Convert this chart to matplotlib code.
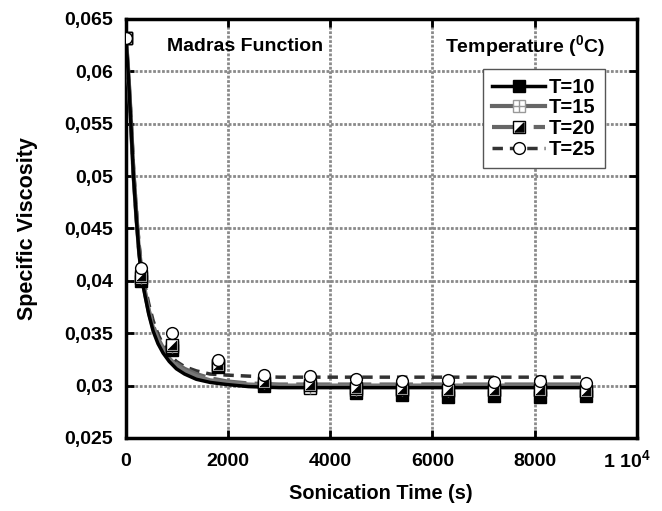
import matplotlib
matplotlib.use("Agg")
import matplotlib.pyplot as plt
from matplotlib.lines import Line2D
from matplotlib.ticker import FixedLocator, FuncFormatter
from matplotlib.transforms import ScaledTranslation

plt.rcParams['font.family'] = ['Liberation Sans', 'DejaVu Sans']
plt.rcParams['font.weight'] = 'bold'
plt.rcParams['mathtext.fontset'] = 'custom'
plt.rcParams['mathtext.rm'] = 'Liberation Sans:bold'
plt.rcParams['mathtext.bf'] = 'Liberation Sans:bold'

# measured data (markers)
time_s = [0, 300, 900, 1800, 2700, 3600, 4500, 5400, 6300, 7200, 8100, 9000]
T10 = [0.0632, 0.0400, 0.0334, 0.0318, 0.0300, 0.0299, 0.0293, 0.0291, 0.0289, 0.0290, 0.0289, 0.0290]
T15 = [0.0632, 0.0403, 0.0337, 0.0320, 0.0302, 0.0298, 0.0296, 0.0296, 0.0295, 0.0296, 0.0296, 0.0295]
T20 = [0.0632, 0.0405, 0.0339, 0.0320, 0.0303, 0.0301, 0.0298, 0.0297, 0.0296, 0.0296, 0.0296, 0.0295]
T25 = [0.0632, 0.0412, 0.0350, 0.0324, 0.0310, 0.0309, 0.0306, 0.0304, 0.0305, 0.0303, 0.0304, 0.0302]

# fitted (Madras function) curves
fit_t = [0, 25, 50, 100, 150, 210, 260, 320, 380, 450, 535, 630, 730, 850, 990,
         1150, 1380, 1650, 1970, 2400, 3000, 4000, 9000]
fit_T10 = [0.0632, 0.0615, 0.0596, 0.0550, 0.0500, 0.0457, 0.0426, 0.0400, 0.0385, 0.0368,
           0.0352, 0.0340, 0.0331, 0.0323, 0.0316, 0.0311, 0.0306, 0.0303, 0.0301, 0.0299,
           0.0298, 0.0298, 0.0298]
fit_T15 = [0.0632, 0.0615, 0.0597, 0.0552, 0.0502, 0.0459, 0.0428, 0.0402, 0.0387, 0.0370,
           0.0355, 0.0343, 0.0334, 0.0326, 0.0319, 0.0314, 0.0309, 0.0305, 0.0303, 0.0301,
           0.0300, 0.0300, 0.0300]
fit_T20 = [0.0632, 0.0616, 0.0598, 0.0554, 0.0504, 0.0461, 0.0430, 0.0404, 0.0389, 0.0372,
           0.0357, 0.0345, 0.0336, 0.0328, 0.0321, 0.0316, 0.0311, 0.0307, 0.0304, 0.0302,
           0.0301, 0.0301, 0.0301]
fit_T25 = [0.0632, 0.0617, 0.0600, 0.0557, 0.0508, 0.0466, 0.0435, 0.0409, 0.0394, 0.0378,
           0.0362, 0.0349, 0.0339, 0.0330, 0.0323, 0.0318, 0.0314, 0.0311, 0.0310, 0.0309,
           0.0308, 0.0308, 0.0308]

y_ticks = [0.025, 0.03, 0.035, 0.04, 0.045, 0.05, 0.055, 0.06, 0.065]
x_ticks = [0, 2000, 4000, 6000, 8000, 10000]

fig = plt.figure(figsize=(6.62, 5.11), dpi=100)
ax = fig.add_axes([0.190, 0.143, 0.772, 0.820])
ax.set_xlim(0, 10000)
ax.set_ylim(0.025, 0.065)

ax.grid(True, color='#8a8a8a', linestyle=(0, (1, 0.6)), linewidth=2.0)
ax.set_axisbelow(True)

# fit curves
ax.plot(fit_t, fit_T25, color='#333333', lw=2.5, ls=(0, (3, 2)), zorder=3)
ax.plot(fit_t, fit_T20, color='#666666', lw=3.0, ls=(0, (8, 2)), zorder=3)
ax.plot(fit_t, fit_T15, color='#777777', lw=3.0, ls='-', zorder=3)
ax.plot(fit_t, fit_T10, color='black', lw=2.5, ls='-', zorder=3)

ms = 8.5
tri = [(-1, -1), (1, -1), (1, 1), (-1, -1)]
# markers
ax.plot(time_s, T10, ls='none', marker='s', ms=ms, mfc='black', mec='black', mew=1, zorder=4)
ax.plot(time_s, T15, ls='none', marker='s', ms=ms, mfc='white', mec='black', mew=1, zorder=5)
ax.plot(time_s, T15, ls='none', marker='+', ms=ms, mec='#888888', mew=1, zorder=5)
ax.plot(time_s, T20, ls='none', marker='s', ms=ms, mfc='white', mec='black', mew=1, zorder=6)
ax.plot(time_s, T20, ls='none', marker=tri, ms=ms * 0.75, mfc='black', mec='black', mew=0.5, zorder=6)
ax.plot(time_s, T25, ls='none', marker='o', ms=ms, mfc='white', mec='black', mew=1, zorder=7)

# ticks
ax.xaxis.set_major_locator(FixedLocator(x_ticks))
ax.yaxis.set_major_locator(FixedLocator(y_ticks))
ax.xaxis.set_major_formatter(FuncFormatter(lambda v, p: '1 10$^{4}$' if v == 10000 else f'{int(v)}'))
ax.yaxis.set_major_formatter(FuncFormatter(lambda v, p: f'{v:.3f}'.rstrip('0').replace('.', ',')))
ax.tick_params(direction='in', length=6, width=2, top=True, right=True, labelsize=14)
ax.tick_params(axis='x', pad=11)
ax.tick_params(axis='y', pad=9)
for lab in ax.get_xticklabels() + ax.get_yticklabels():
    lab.set_fontweight('bold')
for s in ax.spines.values():
    s.set_linewidth(2.5)

last = ax.xaxis.get_major_ticks()[-1].label1
last.set_transform(last.get_transform() + ScaledTranslation(-0.1, 0.04, fig.dpi_scale_trans))

ax.set_xlabel('Sonication Time (s)', fontsize=14.3, fontweight='bold', labelpad=9)
ax.set_ylabel('Specific Viscosity', fontsize=15.5, fontweight='bold', labelpad=19)

ax.text(0.080, 0.933, 'Madras Function', transform=ax.transAxes, fontsize=14,
        fontweight='bold', va='center', ha='left')
ax.text(0.624, 0.933, r'Temperature ($^{0}$C)', transform=ax.transAxes, fontsize=14,
        fontweight='bold', va='center', ha='left')

# legend
h10 = Line2D([], [], color='black', lw=2.5, marker='s', ms=ms, mfc='black', mec='black')
h15 = (Line2D([], [], color='#666666', lw=3.0, marker='s', ms=ms, mfc='white', mec='#999999'),
       Line2D([], [], ls='none', marker='+', ms=ms, mec='#999999', mew=1))
h20 = (Line2D([], [], color='#666666', lw=3.0, ls=(0, (8, 2)), marker='s', ms=ms, mfc='white', mec='black'),
       Line2D([], [], ls='none', marker=tri, ms=ms * 0.75, mfc='black', mec='black'))
h25 = Line2D([], [], color='#333333', lw=2.5, ls=(0, (3, 2)), marker='o', ms=ms, mfc='white', mec='black')
leg = ax.legend([h10, h15, h20, h25], ['T=10', 'T=15', 'T=20', 'T=25'],
                loc='upper right', bbox_to_anchor=(0.937, 0.881), borderaxespad=0,
                prop={'weight': 'bold', 'size': 14.5}, frameon=True, fancybox=False,
                edgecolor='#555555', framealpha=1, handlelength=2.6, handletextpad=0.2,
                labelspacing=0.08, borderpad=0.45)
leg.get_frame().set_linewidth(1.0)

fig.savefig('out.png', dpi=100)
